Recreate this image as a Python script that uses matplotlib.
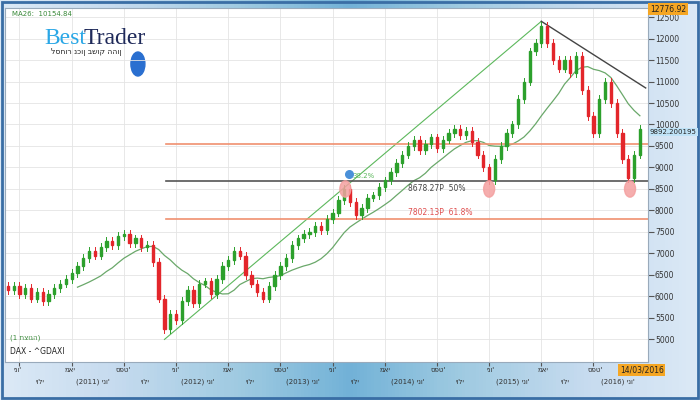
import matplotlib
matplotlib.use("Agg")
import matplotlib.pyplot as plt
import numpy as np
from matplotlib.patches import Rectangle, Ellipse

closes = [6150,6250,6050,6200,5950,6100,5900,6050,6200,6300,
          6400,6550,6700,6900,7050,6950,7150,7300,7200,7400,
          7450,7250,7350,7150,7200,6800,5950,5250,5600,5450,
          5900,6150,5850,6300,6350,6050,6400,6700,6850,7050,
          6950,6500,6300,6100,5950,6250,6500,6700,6900,7200,
          7350,7450,7500,7650,7550,7800,7950,8250,8500,8200,
          7900,8050,8300,8350,8550,8700,8900,9100,9300,9500,
          9650,9400,9550,9700,9450,9650,9800,9900,9750,9850,
          9600,9300,9000,8700,9200,9500,9800,10000,10600,11000,
          11700,11900,12300,11900,11500,11300,11500,11200,11600,10800,
          10200,9800,10600,11000,10500,9800,9200,8750,9300,9892]
first_open = 6250
levels = [9550, 8678.27, 7802.13]
top_labels = ["ינו'", "מאי", "ספט'"] * 4
bottom_labels = ["יולי", "(2011) ינו'", "יולי", "(2012) ינו'", "יולי", "(2013) ינו'",
                 "יולי", "(2014) ינו'", "יולי", "(2015) ינו'", "יולי", "(2016) ינו'"]

fig = plt.figure(figsize=(7, 4), dpi=100)
fig.patch.set_facecolor("#dcedf9")
bg = fig.add_axes([0, 0, 1, 1], zorder=-5)
grad = np.abs(np.linspace(-1, 1, 200))[None, :]
bg.imshow(grad, extent=[0, 1, 0, 1], aspect="auto", cmap="Blues_r", vmin=-1.5, vmax=1.4)
bg.add_patch(Rectangle((0.003, 0.005), 0.994, 0.99, fill=False, ec="#3a6ea5", lw=2))
bg.set_xlim(0, 1); bg.set_ylim(0, 1); bg.axis("off")

ax = fig.add_axes([5/700, 0.095, 643/700, 0.885])
ax.set_facecolor("white")
n = len(closes)
opens = [first_open] + closes[:-1]
for i, (o, c) in enumerate(zip(opens, closes)):
    col = "#2ca02c" if c >= o else "#e3262b"
    hi = max(o, c) + 90
    lo = min(o, c) - 90
    ax.plot([i, i], [lo, hi], color=col, lw=0.7, zorder=3)
    ax.add_patch(Rectangle((i - 0.2, min(o, c)), 0.4, max(abs(c - o), 20), color=col, zorder=4))

ma = np.convolve(closes, np.ones(13) / 13, mode="valid")
ax.plot(np.arange(12, n), ma, color="#6aa86a", lw=0.9, zorder=2)

ax.plot([27, 92], [5000, 12400], color="#5cb85c", lw=0.8)
ax.plot([92, 110], [12400, 10850], color="#444444", lw=1)
ax.axhline(levels[0], xmin=0.25, color="#f0906f", lw=1.2)
ax.axhline(levels[1], xmin=0.25, color="#555555", lw=1.2)
ax.axhline(levels[2], xmin=0.25, color="#f0906f", lw=1.2)
ax.text(69, levels[1] - 60, "8678.27P  50%", fontsize=5.5, color="#444", va="top")
ax.text(69, levels[2] + 40, "7802.13P  61.8%", fontsize=5.5, color="#e05050", va="bottom")
ax.text(59.5, 8760, "38.2%", fontsize=5, color="#5cb85c")
ax.scatter([58.8], [8850], s=30, color="#4a90d9", zorder=6)
for cx in [58.2, 83, 107.3]:
    ax.add_patch(Ellipse((cx, 8500), 1.9, 380, color="#f4a0a0", alpha=0.85, zorder=5))

ax.set_xlim(-0.5, 110.4)
ax.set_ylim(4475, 12710)
ax.yaxis.tick_right()
ax.set_yticks(range(5000, 12501, 500))
ax.set_yticklabels([str(v) for v in range(5000, 12501, 500)], fontsize=5.5, color="#333")
ax.tick_params(axis="y", length=4, pad=1, color="#555")
ax.set_xticks(np.arange(2, 110, 9))
ax.set_xticklabels([])
ax.tick_params(axis="x", length=3, color="#555")
ax.grid(True, color="#e4e4e4", lw=0.6)
for s in ax.spines.values():
    s.set_color("#9ab")

for k, lab in enumerate(top_labels):
    fig.text((18 + k * 52.5) / 700, 1 - 370 / 400, lab, fontsize=5, ha="center", va="center", color="#333")
for k, lab in enumerate(bottom_labels):
    fig.text((40 + k * 52.5) / 700, 1 - 382 / 400, lab, fontsize=5, ha="center", va="center", color="#333")

fig.text(12 / 700, 1 - 14 / 400, "MA26:  10154.84", fontsize=5, color="#3a8a3a", va="center")
fig.text(44 / 700, 1 - 38 / 400, "Best", fontsize=17, color="#2aa7e6", family="Liberation Serif", va="center")
fig.text(84 / 700, 1 - 38 / 400, "Trader", fontsize=17, color="#1f2a5a", family="Liberation Serif", va="center")
fig.text(86 / 700, 1 - 52 / 400, "לסחור נכון בשוק ההון", fontsize=5.5, color="#222", ha="center", va="center")
ax.add_patch(Ellipse((0.197, 0.84), 0.02, 0.06, transform=fig.transFigure, color="#2a6fd0"))
fig.text(10 / 700, 1 - 338 / 400, "(1 תצוגה)", fontsize=5, color="#3a8a3a", va="center")
fig.text(10 / 700, 1 - 352 / 400, "DAX - ^GDAXI", fontsize=5.5, color="#222", va="center")

fig.text(650 / 700, 1 - 9 / 400, "12776.92", fontsize=5.5, color="#222", va="center",
         bbox=dict(boxstyle="square,pad=0.2", fc="#f5a623", ec="none"))
fig.text(650 / 700, 1 - 132 / 400, "9892.200195", fontsize=5, color="#222", va="center",
         bbox=dict(boxstyle="square,pad=0.15", fc="#bfe3f7", ec="none"))
fig.text(620 / 700, 1 - 370 / 400, "14/03/2016", fontsize=5.5, color="#222", va="center",
         bbox=dict(boxstyle="square,pad=0.2", fc="#f5a623", ec="none"))

fig.savefig("out.png", dpi=100, facecolor=fig.get_facecolor())
